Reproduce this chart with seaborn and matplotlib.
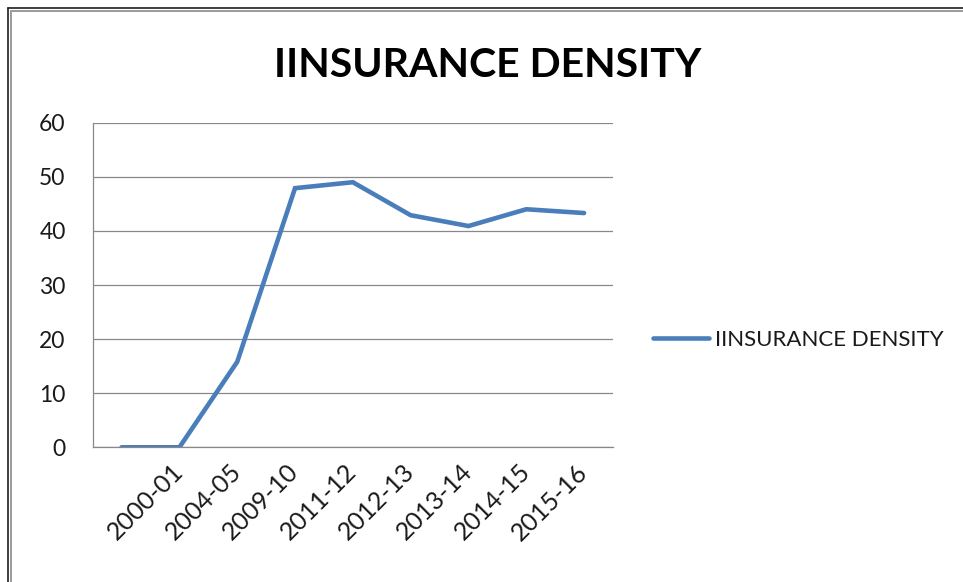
import matplotlib
matplotlib.use("Agg")
import matplotlib.pyplot as plt
from matplotlib.lines import Line2D
import numpy as np
import pandas as pd
import seaborn as sns

# Insurance density by fiscal year (first slot has no label)
periods = ["", "2000-01", "2004-05", "2009-10", "2011-12", "2012-13",
           "2013-14", "2014-15", "2015-16"]
density = [0.0, 0.0, 15.8, 47.9, 49.0, 42.9, 40.9, 44.0, 43.3]
y_ticks = [0, 10, 20, 30, 40, 50, 60]
series_name = "IINSURANCE DENSITY"
chart_title = "IINSURANCE DENSITY"

df = pd.DataFrame({"period": periods, "density": density})
df["pos"] = np.arange(len(df))

sns.set_style("white")
plt.rcParams["font.family"] = ["Lato", "DejaVu Sans"]

W, H = 963, 582
fig = plt.figure(figsize=(W / 100, H / 100), dpi=100)
fig.patch.set_facecolor("white")

def fx(px):
    return px / W

def fy(py):
    return 1 - py / H

left, right, top, bottom = 92.7, 613.0, 122.7, 447.3
ax = fig.add_axes([fx(left), fy(bottom), fx(right - left), (bottom - top) / H])

grid_col = "#888888"
line_col = "#4a7ebb"
text_col = "#1a1a1a"

sns.lineplot(data=df, x="pos", y="density", ax=ax, color=line_col,
             linewidth=3.3, label=series_name, legend=False,
             solid_capstyle="round", solid_joinstyle="miter")

n = len(periods)
ax.set_xlim(-0.5, n - 0.5)
ax.set_ylim(y_ticks[0], y_ticks[-1])

# horizontal gridlines
ax.set_yticks(y_ticks)
ax.yaxis.grid(True, color=grid_col, linewidth=0.9)
ax.xaxis.grid(False)
ax.set_axisbelow(True)

# category boundaries carry the tick marks, centres carry the labels
ax.set_xticks(np.arange(n + 1) - 0.5)
ax.set_xticklabels([])
ax.set_xticks(np.arange(n), minor=True)
ax.set_xticklabels(periods, minor=True, rotation=45, ha="right",
                   va="center", rotation_mode="anchor", fontsize=18,
                   color=text_col)
ax.tick_params(axis="x", which="major", length=7.5, width=0.9,
               color=grid_col, direction="out")
ax.tick_params(axis="x", which="minor", length=0, pad=15)
ax.tick_params(axis="y", length=6.5, width=0.9, color=grid_col,
               direction="out", pad=13, labelsize=16.5, labelcolor=text_col)

for side in ["top", "right"]:
    ax.spines[side].set_visible(False)
for side in ["left", "bottom"]:
    ax.spines[side].set_color(grid_col)
    ax.spines[side].set_linewidth(0.9)

ax.set_xlabel("")
ax.set_ylabel("")

fig.text(fx(488), fy(77), chart_title, ha="center", va="baseline",
         fontsize=29.5, fontweight="bold", color="black")

handle = Line2D([], [], color=line_col, linewidth=3.3, solid_capstyle="round")
fig.legend([handle], [series_name], loc="center left",
           bbox_to_anchor=(fx(653), fy(340)), frameon=False, borderpad=0,
           borderaxespad=0, handlelength=2.5, handletextpad=0.3,
           fontsize=16, labelcolor=text_col)

# outer chart frame (double line on top and left edges)
fig.add_artist(Line2D([fx(7.5), 1], [fy(8.3), fy(8.3)], color="#1e1e1e", lw=1.2))
fig.add_artist(Line2D([fx(11), 1], [fy(10.8), fy(10.8)], color="#9a9a9a", lw=1.4))
fig.add_artist(Line2D([fx(8), fx(8)], [fy(8), 0], color="#1e1e1e", lw=1.2))
fig.add_artist(Line2D([fx(11.2), fx(11.2)], [fy(10.5), 0], color="#9a9a9a", lw=1.4))

fig.savefig("out.png", dpi=100, facecolor="white")
